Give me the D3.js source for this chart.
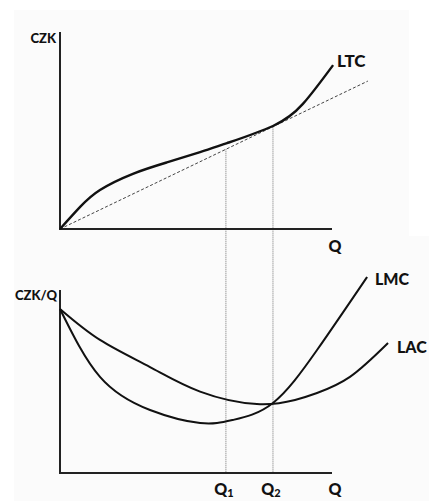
<!DOCTYPE html>
<html><head><meta charset="utf-8">
<script src="https://cdn.jsdelivr.net/npm/d3@7"></script>
<style>body{margin:0;background:#fff}svg{display:block}</style>
</head><body>
<script>
// Quantity positions (0..100 = axis length)
const ltcX = [0, 7.4, 14.7, 26.8, 39.3, 51.5, 61.4, 78.3, 89.3, 100.4];
const ltcY = [0, 11.2, 19.8, 28.0, 33.8, 39.0, 43.6, 52.3, 63.5, 83.2];
const rayX = [0, 113.2];
const rayY = [0, 75.1];
const lmcX = [0, 14.7, 33.1, 51.5, 63.6, 78.3, 94.5, 112.9];
const lmcY = [89.6, 52.5, 34.4, 27.3, 29.0, 38.3, 67.2, 107.1];
const lacX = [0, 14.7, 33.1, 51.5, 72.4, 86.4, 94.5, 106.6, 120.6];
const lacY = [89.6, 72.7, 57.9, 44.5, 37.7, 39.9, 43.7, 52.5, 71.0];
const qMarks = [61.0, 78.3];
const qLabels = ["1", "2"];

const W = 429, H = 501;
const svg = d3.select("body").append("svg").attr("width", W).attr("height", H);
svg.append("rect").attr("x",14).attr("y",10).attr("width",395).attr("height",491).attr("fill","#fbfbfb");
svg.append("rect").attr("x",409).attr("y",236).attr("width",20).attr("height",265).attr("fill","#fbfbfb");

const x = d3.scaleLinear().domain([0,100]).range([60,332]);
const yTop = d3.scaleLinear().domain([0,100]).range([229,32]);
const yBot = d3.scaleLinear().domain([0,100]).range([473,290]);

const font = "Lato, 'Liberation Sans', sans-serif";

// guide lines
const rayAt = v => rayY[0] + (rayY[1]-rayY[0])*(v-rayX[0])/(rayX[1]-rayX[0]);
qMarks.forEach(q => {
  svg.append("line").attr("x1",x(q)).attr("x2",x(q))
    .attr("y1",yTop(rayAt(q))).attr("y2",yBot(0))
    .attr("stroke","#666").attr("stroke-width",0.9).attr("stroke-dasharray","1,1");
});

// dashed ray
svg.append("line").attr("x1",x(rayX[0])).attr("y1",yTop(rayY[0]))
  .attr("x2",x(rayX[1])).attr("y2",yTop(rayY[1]))
  .attr("stroke","#444").attr("stroke-width",1).attr("stroke-dasharray","3,2");

// axes
function axes(y, top, bottom){
  svg.append("path").attr("d",`M${x(0)},${y(top)}V${y(0)}H${x(bottom)}`)
    .attr("fill","none").attr("stroke","#222").attr("stroke-width",2);
}
axes(yTop, 100, 100);
axes(yBot, 100, 100);

const line = (y) => d3.line().x(d=>x(d[0])).y(d=>y(d[1])).curve(d3.curveNatural);
svg.append("path").datum(ltcX.map((v,i)=>[v,ltcY[i]])).attr("d",line(yTop))
  .attr("fill","none").attr("stroke","#111").attr("stroke-width",2.4);
svg.append("path").datum(lmcX.map((v,i)=>[v,lmcY[i]])).attr("d",line(yBot))
  .attr("fill","none").attr("stroke","#111").attr("stroke-width",2);
svg.append("path").datum(lacX.map((v,i)=>[v,lacY[i]])).attr("d",line(yBot))
  .attr("fill","none").attr("stroke","#111").attr("stroke-width",2);

function label(t, px, py, size, anchor){
  return svg.append("text").attr("x",px).attr("y",py).attr("font-family",font)
    .attr("font-weight",900).attr("font-size",size).attr("text-anchor",anchor||"start")
    .attr("fill","#111").text(t);
}
label("CZK", 56, 43, 13, "end");
label("LTC", 337, 67, 17);
label("Q", 335, 252, 16, "middle");
label("CZK/Q", 57, 300, 13, "end");
label("LMC", 375, 285, 16);
label("LAC", 397, 353, 16);
label("Q", 335, 495, 16, "middle");
qMarks.forEach((q,i)=>{
  const t = svg.append("text").attr("x",x(q)-2).attr("y",495).attr("font-family",font)
    .attr("font-weight",900).attr("font-size",16).attr("text-anchor","middle").attr("fill","#111");
  t.append("tspan").text("Q");
  t.append("tspan").attr("font-size",11).attr("dy",2).text(qLabels[i]);
});
</script>
</body></html>
